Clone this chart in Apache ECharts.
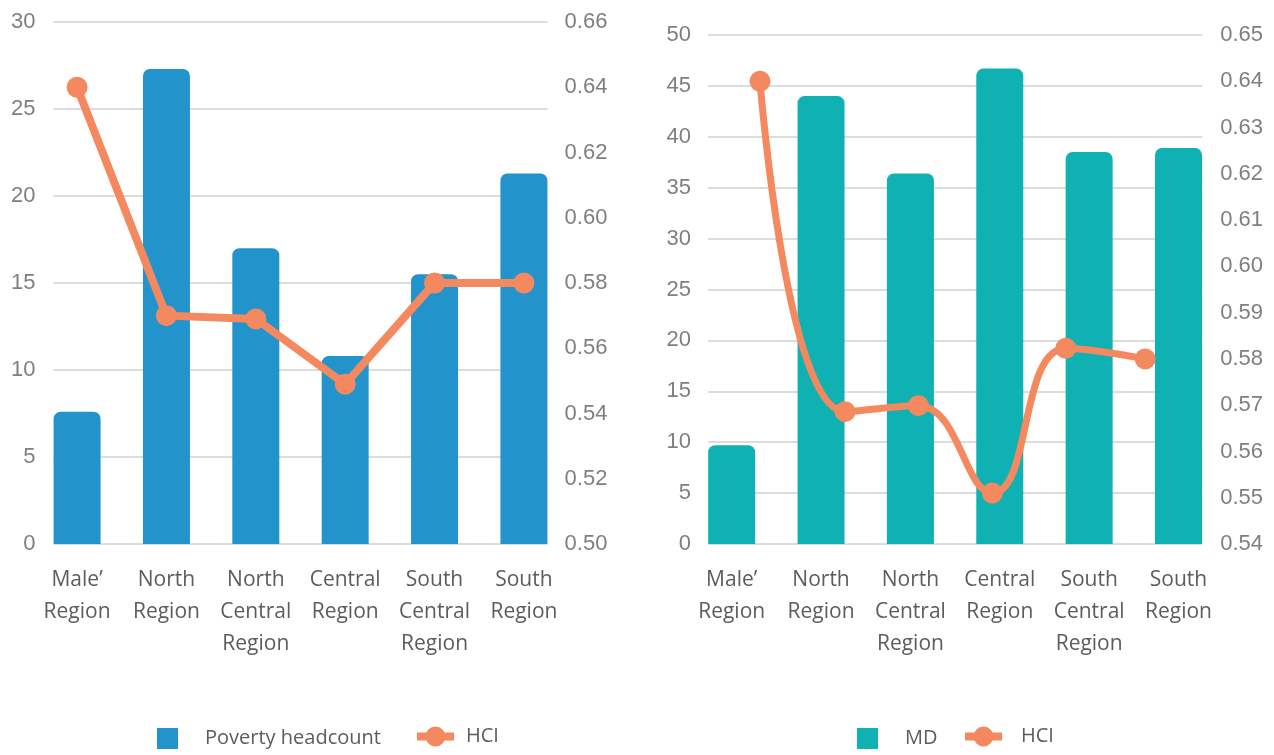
<!DOCTYPE html>
<html>
<head>
<meta charset="utf-8">
<title>Poverty, MD and HCI by region</title>
<script src="https://cdn.jsdelivr.net/npm/echarts@6/dist/echarts.min.js"></script>
<style>
  html, body { margin: 0; padding: 0; background: #ffffff; }
  #chart { width: 1274px; height: 755px; }
</style>
</head>
<body>
<div id="chart"></div>
<script>
// Regions shown on both panels
const regions = [
  'Male\u2019\nRegion',
  'North\nRegion',
  'North\nCentral\nRegion',
  'Central\nRegion',
  'South\nCentral\nRegion',
  'South\nRegion'
];

// Left panel: poverty headcount (%) and HCI
const povertyHeadcount = [7.6, 27.3, 17.0, 10.8, 15.5, 21.3];
const hciLeft = [0.640, 0.570, 0.569, 0.549, 0.580, 0.580];

// Right panel: MD (%) and HCI
const mdValues = [9.7, 44.0, 36.4, 46.7, 38.5, 38.9];
const hciRight = [0.640, 0.5686, 0.5699, 0.551, 0.5823, 0.580];
// where each HCI point of the right panel sits along the region axis
const hciRightPos = [0.317, 1.268, 2.089, 2.917, 3.739, 4.627];

// Axis ranges
const leftTicks = { min: 0, max: 30, step: 5 };
const leftHciTicks = { min: 0.50, max: 0.66, step: 0.02 };
const rightTicks = { min: 0, max: 50, step: 5 };
const rightHciTicks = { min: 0.54, max: 0.65, step: 0.01 };

const BLUE = '#2394cb';
const TEAL = '#0fb1b3';
const ORANGE = '#f4895f';
const GRID_LINE = '#dcdcdc';
const TICK_COLOR = '#7f7f7f';
const CAT_COLOR = '#5c5c5c';
const NUM_FONT = "'Liberation Sans', Arial, sans-serif";
const TXT_FONT = "'Open Sans', 'Noto Sans', sans-serif";

const indices = regions.map((_, i) => i);

function categoryAxis(gridIndex) {
  return {
    type: 'value',
    gridIndex,
    min: -0.265,
    max: 5.265,
    axisLine: { show: false },
    axisTick: { show: false },
    splitLine: { show: false },
    axisLabel: {
      customValues: indices,
      formatter: (v) => regions[Math.round(v)] || '',
      color: CAT_COLOR,
      fontFamily: TXT_FONT,
      fontSize: 21,
      lineHeight: 32,
      margin: 20
    }
  };
}

function valueAxis(gridIndex, t, position, withGrid, digits, margin) {
  return {
    type: 'value',
    gridIndex,
    position,
    min: t.min,
    max: t.max,
    interval: t.step,
    axisLine: { show: false },
    axisTick: { show: false },
    splitLine: { show: withGrid, lineStyle: { color: GRID_LINE, width: 2 } },
    axisLabel: {
      color: TICK_COLOR,
      fontFamily: NUM_FONT,
      fontSize: 22,
      margin,
      formatter: (v) => Number(v).toFixed(digits)
    }
  };
}

function legendPiece(name, left, top, w, h, padLeft, extra) {
  return Object.assign({
    data: [name],
    left, top,
    padding: 0,
    itemWidth: w,
    itemHeight: h,
    selectedMode: false,
    lineStyle: { width: 8 },
    textStyle: {
      color: CAT_COLOR,
      fontFamily: TXT_FONT,
      fontSize: 20,
      padding: [8, 0, 0, padLeft]
    }
  }, extra || {});
}

const option = {
  backgroundColor: '#ffffff',
  animation: false,
  grid: [
    { left: 53.4, top: 22, width: 494.2, height: 522 },
    { left: 708, top: 35, width: 494.2, height: 509 }
  ],
  xAxis: [categoryAxis(0), categoryAxis(1)],
  yAxis: [
    valueAxis(0, leftTicks, 'left', true, 0, 18),
    valueAxis(0, leftHciTicks, 'right', false, 2, 17),
    valueAxis(1, rightTicks, 'left', true, 0, 17),
    valueAxis(1, rightHciTicks, 'right', false, 2, 18)
  ],
  legend: [
    legendPiece('Poverty headcount', 157, 728, 21, 21, 22, { icon: 'rect' }),
    legendPiece('HCI', 413, 726.5, 37, 25, 7),
    legendPiece('MD', 857, 728, 21, 21, 22, { icon: 'rect' }),
    legendPiece('HCI', 961, 726.5, 37, 25, 14)
  ],
  series: [
    {
      name: 'Poverty headcount',
      type: 'bar',
      xAxisIndex: 0,
      yAxisIndex: 0,
      barWidth: 47,
      data: povertyHeadcount.map((v, i) => [indices[i], v]),
      itemStyle: { color: BLUE, borderRadius: [7, 7, 0, 0] }
    },
    {
      name: 'HCI',
      type: 'line',
      xAxisIndex: 0,
      yAxisIndex: 1,
      data: hciLeft.map((v, i) => [indices[i], v]),
      symbol: 'circle',
      symbolSize: 21,
      lineStyle: { color: ORANGE, width: 8 },
      itemStyle: { color: ORANGE }
    },
    {
      name: 'MD',
      type: 'bar',
      xAxisIndex: 1,
      yAxisIndex: 2,
      barWidth: 47,
      data: mdValues.map((v, i) => [indices[i], v]),
      itemStyle: { color: TEAL, borderRadius: [7, 7, 0, 0] }
    },
    {
      name: 'HCI',
      type: 'line',
      xAxisIndex: 1,
      yAxisIndex: 3,
      data: hciRight.map((v, i) => [hciRightPos[i], v]),
      smooth: 0.45,
      symbol: 'circle',
      symbolSize: 21,
      lineStyle: { color: ORANGE, width: 7 },
      itemStyle: { color: ORANGE }
    }
  ]
};

const chart = echarts.init(document.getElementById('chart'), null, { renderer: 'canvas' });
chart.setOption(option);
</script>
</body>
</html>
